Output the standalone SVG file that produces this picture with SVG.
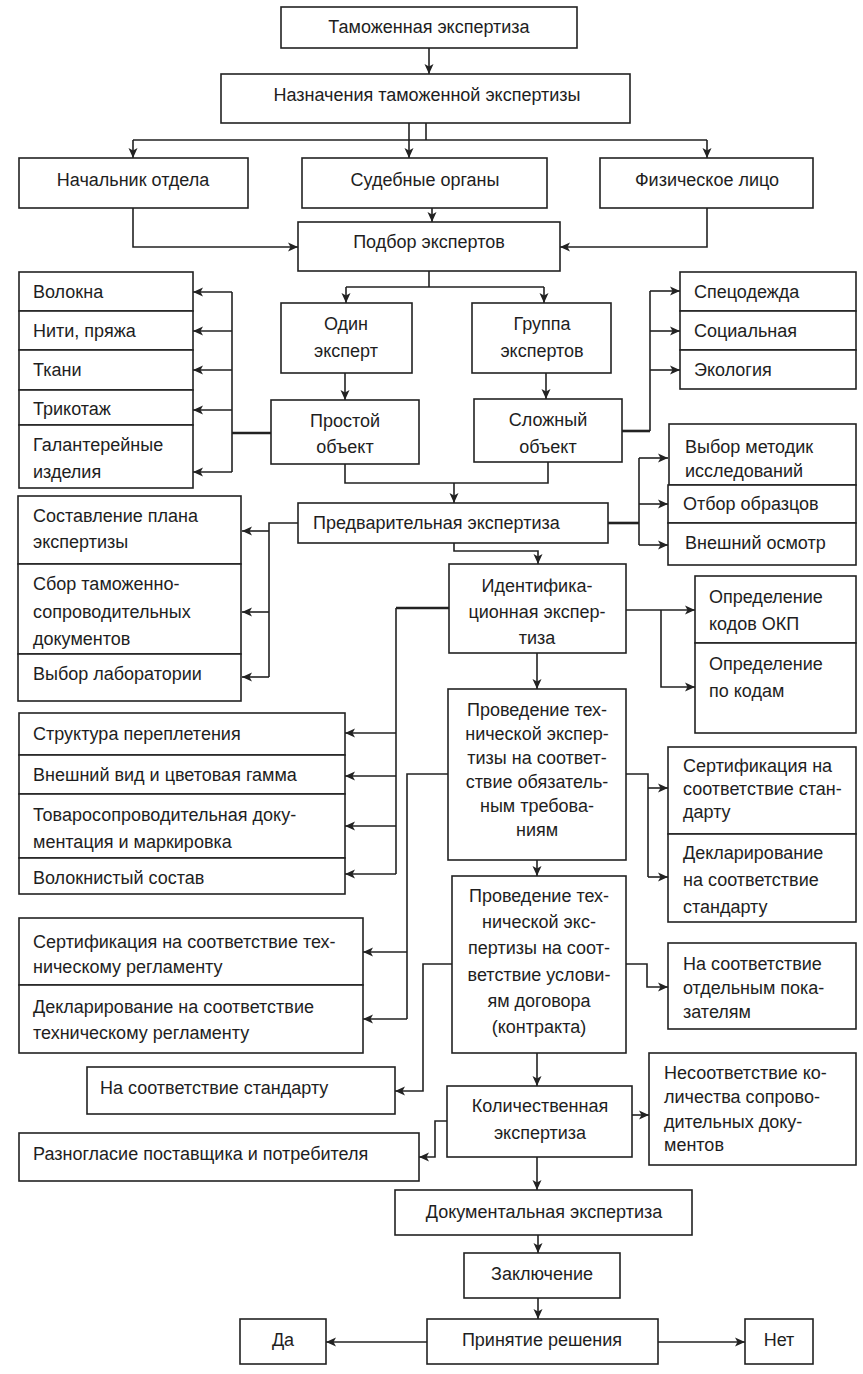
<svg xmlns="http://www.w3.org/2000/svg" width="863" height="1374" viewBox="0 0 863 1374">
<defs>
<style>
.box rect{fill:#fff;stroke:#222;stroke-width:1.6}
text{font-family:"Liberation Sans",Arial,sans-serif;font-size:18px;fill:#1e1e1e}
.m{text-anchor:middle}
.conn path{fill:none;stroke:#222;stroke-width:1.6}
.conn path.thick{stroke-width:2.6}
.conn path.a{marker-end:url(#arr)}
</style>
<marker id="arr" viewBox="0 0 10 10" markerWidth="10" markerHeight="10" markerUnits="userSpaceOnUse" refX="10" refY="5" orient="auto">
<path d="M0,0.5 L10,5 L0,9.5 L2.5,5 Z" fill="#222"/>
</marker>
</defs>
<rect width="863" height="1374" fill="#fff"/>

<g class="conn" id="connectors">
<path class="a" d="M429,48 V74"/>
<path d="M426,123 V140 M133,140 H707"/>
<path class="a" d="M133,140 V158"/>
<path class="a" d="M707,140 V158"/>
<path class="a" d="M409,123 V158"/>
<path class="a" d="M432,208 V222"/>
<path class="a" d="M133,208 V247 H298"/>
<path class="a" d="M707,208 V247 H560"/>
<path d="M429,271 V287 M346,287 H544"/>
<path class="a" d="M346,287 V303"/>
<path class="a" d="M544,287 V303"/>
<path class="a" d="M345,373 V400"/>
<path class="a" d="M546,373 V399"/>
<path class="thick" d="M271,433 H232"/>
<path d="M232,292 V472"/>
<path class="a" d="M232,292 H193"/>
<path class="a" d="M232,331 H193"/>
<path class="a" d="M232,370 H193"/>
<path class="a" d="M232,410 H193"/>
<path class="a" d="M232,472 H193"/>
<path class="thick" d="M622,431 H650"/>
<path d="M650,291 V431"/>
<path class="a" d="M650,291 H680"/>
<path class="a" d="M650,331 H680"/>
<path class="a" d="M650,370 H680"/>
<path d="M345,464 V483 H548 V462"/>
<path class="a" d="M454,483 V503"/>
<path class="thick" d="M608,523 H639"/>
<path d="M639,458 V545"/>
<path class="a" d="M639,458 H668"/>
<path class="a" d="M639,504 H668"/>
<path class="a" d="M639,545 H668"/>
<path d="M298,523 H269 V677"/>
<path class="a" d="M269,531 H242"/>
<path class="a" d="M269,612 H242"/>
<path class="a" d="M269,677 H242"/>
<path class="a" d="M454,543 V551 H538 V564"/>
<path class="a" d="M626,610 H695"/>
<path class="a" d="M661,610 V687 H695"/>
<path class="thick" d="M449,608 H396"/>
<path d="M396,608 V874"/>
<path class="a" d="M396,733 H345"/>
<path class="a" d="M396,776 H345"/>
<path class="a" d="M396,826 H345"/>
<path class="a" d="M396,874 H345"/>
<path class="a" d="M537,653 V689"/>
<path d="M626,774 H648 V877"/>
<path class="a" d="M648,788 H668"/>
<path class="a" d="M648,877 H668"/>
<path d="M448,774 H407 V1019"/>
<path class="a" d="M407,952 H363"/>
<path class="a" d="M407,1019 H363"/>
<path class="a" d="M537,860 V876"/>
<path class="a" d="M626,964 H647 V987 H668"/>
<path class="a" d="M452,964 H423 V1091 H395"/>
<path class="a" d="M537,1053 V1086"/>
<path class="a" d="M632,1115 H649"/>
<path class="a" d="M447,1121 H435 V1157 H419"/>
<path class="a" d="M537,1157 V1190"/>
<path class="a" d="M538,1235 V1253"/>
<path class="a" d="M538,1298 V1319"/>
<path class="a" d="M427,1342 H326"/>
<path class="a" d="M658,1342 H745"/>
</g>

<g class="box" id="n1"><rect x="281" y="7" width="296" height="41"/><text class="m" x="429" y="33">Таможенная экспертиза</text></g>
<g class="box" id="n2"><rect x="221" y="74" width="409" height="49"/><text class="m" x="427" y="101">Назначения таможенной экспертизы</text></g>
<g class="box" id="n3"><rect x="19" y="158" width="229" height="50"/><text class="m" x="133" y="186">Начальник отдела</text></g>
<g class="box" id="n4"><rect x="302" y="158" width="245" height="50"/><text class="m" x="425" y="186">Судебные органы</text></g>
<g class="box" id="n5"><rect x="600" y="158" width="213" height="50"/><text class="m" x="707" y="186">Физическое лицо</text></g>
<g class="box" id="n6"><rect x="298" y="222" width="262" height="49"/><text class="m" x="429" y="248">Подбор экспертов</text></g>

<g class="box" id="n7"><rect x="19" y="272" width="174" height="39"/><text x="33" y="298">Волокна</text></g>
<g class="box" id="n8"><rect x="19" y="311" width="174" height="39"/><text x="33" y="337">Нити, пряжа</text></g>
<g class="box" id="n9"><rect x="19" y="350" width="174" height="40"/><text x="33" y="376">Ткани</text></g>
<g class="box" id="n10"><rect x="19" y="390" width="174" height="35"/><text x="33" y="415">Трикотаж</text></g>
<g class="box" id="n11"><rect x="19" y="425" width="174" height="63"/><text x="33" y="451">Галантерейные</text><text x="33" y="478">изделия</text></g>

<g class="box" id="n12"><rect x="281" y="303" width="131" height="70"/><text class="m" x="346" y="330">Один</text><text class="m" x="346" y="357">эксперт</text></g>
<g class="box" id="n13"><rect x="472" y="303" width="139" height="70"/><text class="m" x="542" y="330">Группа</text><text class="m" x="542" y="357">экспертов</text></g>
<g class="box" id="n14"><rect x="271" y="400" width="148" height="64"/><text class="m" x="345" y="427">Простой</text><text class="m" x="345" y="453">объект</text></g>
<g class="box" id="n15"><rect x="474" y="399" width="148" height="63"/><text class="m" x="548" y="426">Сложный</text><text class="m" x="548" y="453">объект</text></g>

<g class="box" id="n16"><rect x="680" y="272" width="176" height="39"/><text x="694" y="298">Спецодежда</text></g>
<g class="box" id="n17"><rect x="680" y="311" width="176" height="39"/><text x="694" y="337">Социальная</text></g>
<g class="box" id="n18"><rect x="680" y="350" width="176" height="39"/><text x="694" y="376">Экология</text></g>

<g class="box" id="n19"><rect x="669" y="424" width="187" height="61"/><text x="685" y="453">Выбор методик</text><text x="685" y="477">исследований</text></g>
<g class="box" id="n20"><rect x="668" y="485" width="188" height="38"/><text x="683" y="510">Отбор образцов</text></g>
<g class="box" id="n21"><rect x="668" y="523" width="188" height="42"/><text x="685" y="549">Внешний осмотр</text></g>

<g class="box" id="n22"><rect x="298" y="503" width="310" height="40"/><text x="313" y="529">Предварительная экспертиза</text></g>

<g class="box" id="n23"><rect x="18" y="496" width="223" height="68"/><text x="33" y="522">Составление плана</text><text x="33" y="548">экспертизы</text></g>
<g class="box" id="n24"><rect x="18" y="564" width="223" height="90"/><text x="33" y="590">Сбор таможенно-</text><text x="33" y="618">сопроводительных</text><text x="33" y="645">документов</text></g>
<g class="box" id="n25"><rect x="18" y="654" width="223" height="47"/><text x="33" y="680">Выбор лаборатории</text></g>

<g class="box" id="n26"><rect x="449" y="564" width="177" height="89"/><text class="m" x="537" y="592">Идентифика-</text><text class="m" x="537" y="618">ционная экспер-</text><text class="m" x="537" y="644">тиза</text></g>
<g class="box" id="n27"><rect x="695" y="576" width="161" height="67"/><text x="709" y="603">Определение</text><text x="709" y="630">кодов ОКП</text></g>
<g class="box" id="n28"><rect x="695" y="643" width="161" height="90"/><text x="709" y="670">Определение</text><text x="709" y="697">по кодам</text></g>

<g class="box" id="n29"><rect x="19" y="713" width="326" height="42"/><text x="33" y="740">Структура переплетения</text></g>
<g class="box" id="n30"><rect x="19" y="755" width="326" height="39"/><text x="33" y="781">Внешний вид и цветовая гамма</text></g>
<g class="box" id="n31"><rect x="19" y="794" width="326" height="64"/><text x="33" y="821">Товаросопроводительная доку-</text><text x="33" y="848">ментация и маркировка</text></g>
<g class="box" id="n32"><rect x="19" y="858" width="326" height="36"/><text x="33" y="884">Волокнистый состав</text></g>

<g class="box" id="n33"><rect x="448" y="689" width="178" height="171"/><text class="m" x="537" y="716">Проведение тех-</text><text class="m" x="537" y="740">нической экспер-</text><text class="m" x="537" y="764">тизы на соответ-</text><text class="m" x="537" y="788">ствие обязатель-</text><text class="m" x="537" y="812">ным требова-</text><text class="m" x="537" y="836">ниям</text></g>
<g class="box" id="n34"><rect x="668" y="747" width="188" height="87"/><text x="683" y="772">Сертификация на</text><text x="683" y="795">соответствие стан-</text><text x="683" y="818">дарту</text></g>
<g class="box" id="n35"><rect x="668" y="834" width="188" height="88"/><text x="683" y="859">Декларирование</text><text x="683" y="886">на соответствие</text><text x="683" y="913">стандарту</text></g>

<g class="box" id="n36"><rect x="452" y="876" width="174" height="177"/><text class="m" x="539" y="902">Проведение тех-</text><text class="m" x="539" y="928">нической экс-</text><text class="m" x="539" y="954">пертизы на соот-</text><text class="m" x="539" y="981">ветствие услови-</text><text class="m" x="539" y="1007">ям договора</text><text class="m" x="539" y="1033">(контракта)</text></g>
<g class="box" id="n37"><rect x="668" y="943" width="188" height="86"/><text x="683" y="970">На соответствие</text><text x="683" y="994">отдельным пока-</text><text x="683" y="1018">зателям</text></g>

<g class="box" id="n38"><rect x="19" y="918" width="344" height="67"/><text x="33" y="948">Сертификация на соответствие тех-</text><text x="33" y="973">ническому регламенту</text></g>
<g class="box" id="n39"><rect x="19" y="985" width="344" height="68"/><text x="33" y="1013">Декларирование на соответствие</text><text x="33" y="1039">техническому регламенту</text></g>

<g class="box" id="n40"><rect x="87" y="1067" width="308" height="47"/><text x="100" y="1094">На соответствие стандарту</text></g>

<g class="box" id="n41"><rect x="447" y="1086" width="185" height="71"/><text class="m" x="540" y="1112">Количественная</text><text class="m" x="540" y="1139">экспертиза</text></g>
<g class="box" id="n42"><rect x="649" y="1053" width="207" height="112"/><text x="664" y="1079">Несоответствие ко-</text><text x="664" y="1103">личества сопрово-</text><text x="664" y="1128">дительных доку-</text><text x="664" y="1151">ментов</text></g>

<g class="box" id="n43"><rect x="19" y="1133" width="400" height="48"/><text x="33" y="1160">Разногласие поставщика и потребителя</text></g>

<g class="box" id="n44"><rect x="395" y="1190" width="297" height="45"/><text class="m" x="544" y="1218">Документальная экспертиза</text></g>
<g class="box" id="n45"><rect x="464" y="1253" width="156" height="45"/><text class="m" x="542" y="1280">Заключение</text></g>
<g class="box" id="n46"><rect x="427" y="1319" width="231" height="45"/><text class="m" x="542" y="1346">Принятие решения</text></g>
<g class="box" id="n47"><rect x="240" y="1319" width="86" height="45"/><text class="m" x="283" y="1346">Да</text></g>
<g class="box" id="n48"><rect x="745" y="1319" width="68" height="45"/><text class="m" x="779" y="1346">Нет</text></g>
</svg>
